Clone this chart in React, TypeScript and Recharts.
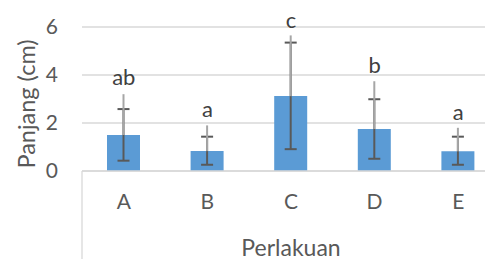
import React from 'react';
import { ComposedChart, Bar, Line, XAxis, YAxis, CartesianGrid, ErrorBar, LabelList } from 'recharts';

const categories = ['A', 'B', 'C', 'D', 'E'];
const means = [1.5, 0.83, 3.12, 1.75, 0.82];
const lowerBounds = [0.43, 0.26, 0.91, 0.51, 0.26];
const upperBounds = [2.58, 1.43, 5.35, 2.99, 1.43];
const outerUpper = [3.2, 1.9, 5.65, 3.74, 1.8];
const letters = ['ab', 'a', 'c', 'b', 'a'];
const letterPositions = [3.95, 2.6, 6.3, 4.45, 2.5];
const yTicks = [0, 2, 4, 6];

const data = categories.map((cat, i) => ({
  cat,
  mean: means[i],
  darkErr: [means[i] - lowerBounds[i], upperBounds[i] - means[i]],
  lightErr: [0, outerUpper[i] - means[i]],
  letterPos: letterPositions[i],
  letter: letters[i],
}));

const FONT = 'Lato, "Noto Sans", sans-serif';
const TEXT = '#595959';

const YLabel = (props: any) => {
  const vb = props.viewBox;
  const x = vb.x + 26;
  const y = vb.y + vb.height / 2 + 5;
  return (
    <text x={x} y={y} transform={`rotate(-90, ${x}, ${y})`} textAnchor="middle" dominantBaseline="central"
      fontFamily={FONT} fontSize={23.5} fill={TEXT}>
      Panjang (cm)
    </text>
  );
};

const XLabel = (props: any) => {
  const vb = props.viewBox;
  return (
    <g>
      <line x1={vb.x} y1={vb.y} x2={vb.x} y2={vb.y + vb.height} stroke="#d9d9d9" strokeWidth={1.3} />
      <text x={vb.x + vb.width / 2} y={vb.y + 76} textAnchor="middle" dominantBaseline="central"
        fontFamily={FONT} fontSize={23} fill={TEXT}>
        Perlakuan
      </text>
    </g>
  );
};

const Letter = (props: any) => {
  const { x, y, value } = props;
  return (
    <text x={x} y={y} textAnchor="middle" dominantBaseline="central" fontFamily={FONT} fontSize={22} fill="#404040">
      {value}
    </text>
  );
};

export default function App() {
  return (
    <div style={{ position: 'absolute', left: 0, top: 0, width: 485, height: 259, overflow: 'hidden', background: '#fff' }}>
      <ComposedChart width={500} height={259} data={data} margin={{ top: 27, right: 0, bottom: 0, left: 0 }}>
        <CartesianGrid vertical={false} stroke="#d9d9d9" strokeWidth={1.3} />
        <XAxis dataKey="cat" height={88} tickSize={0} tickMargin={23} axisLine={{ stroke: '#d9d9d9', strokeWidth: 1.3 }}
          tick={{ fill: TEXT, fontSize: 21, fontFamily: FONT }} label={<XLabel />} />
        <YAxis width={82} domain={[0, 6]} ticks={yTicks} allowDataOverflow tickSize={0} tickMargin={24}
          axisLine={false} tick={{ fill: TEXT, fontSize: 21, fontFamily: FONT }} label={<YLabel />} />
        <Bar dataKey="mean" fill="#5b9bd5" barSize={33} isAnimationActive={false}>
          <ErrorBar dataKey="darkErr" width={6} stroke="#595959" strokeWidth={2} />
          <ErrorBar dataKey="lightErr" width={0} stroke="#a6a6a6" strokeWidth={2} />
        </Bar>
        <Line dataKey="letterPos" stroke="none" dot={false} activeDot={false} isAnimationActive={false}>
          <LabelList dataKey="letter" content={<Letter />} />
        </Line>
      </ComposedChart>
    </div>
  );
}
